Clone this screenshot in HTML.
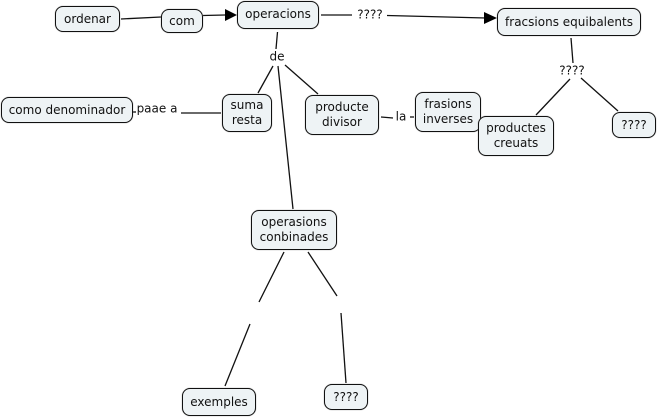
<!DOCTYPE html>
<html>
<head>
<meta charset="utf-8">
<style>
html,body{margin:0;padding:0;background:#fff}
#c{position:relative;width:657px;height:417px;overflow:hidden;background:#fff;font-family:"DejaVu Sans","Liberation Sans",sans-serif;font-size:12px;color:#111}
svg{position:absolute;left:0;top:0}
.n{position:absolute;box-sizing:border-box;background:#eef3f5;border:1px solid #111;border-radius:8px;display:flex;align-items:center;justify-content:center;text-align:center;line-height:15px;white-space:nowrap;box-shadow:0 0 1px #888}
.l{position:absolute;transform:translate(-50%,-50%);white-space:nowrap;line-height:15px}
</style>
</head>
<body>
<div id="c">
<svg width="657" height="417" viewBox="0 0 657 417">
<g stroke="#111" stroke-width="1.3" fill="none">
<line x1="121" y1="19" x2="161" y2="17"/>
<line x1="203" y1="15.5" x2="225" y2="15"/>
<line x1="321" y1="15" x2="352" y2="15"/>
<line x1="387" y1="15.5" x2="486" y2="18"/>
<line x1="277.5" y1="32" x2="276" y2="49"/>
<line x1="273" y1="66" x2="258" y2="93"/>
<line x1="278" y1="66" x2="293" y2="209"/>
<line x1="285" y1="65" x2="318" y2="94"/>
<line x1="133" y1="112" x2="136" y2="112"/>
<line x1="181" y1="113" x2="221" y2="113"/>
<line x1="381" y1="117" x2="393" y2="118"/>
<line x1="410" y1="117" x2="414" y2="117"/>
<line x1="571" y1="38" x2="573" y2="63"/>
<line x1="570" y1="79" x2="536" y2="115"/>
<line x1="581" y1="78" x2="618" y2="111"/>
<line x1="284" y1="252" x2="259" y2="302"/>
<line x1="250" y1="324" x2="225" y2="386"/>
<line x1="308" y1="252" x2="337" y2="296"/>
<line x1="341" y1="313" x2="346" y2="383"/>
</g>
<polygon points="225,9 225,21 237,15" fill="#000"/>
<polygon points="484,12 484,24 497,18" fill="#000"/>
</svg>
<div class="n" style="left:55px;top:6px;width:65px;height:26px">ordenar</div>
<div class="n" style="left:161px;top:9px;width:42px;height:24px">com</div>
<div class="n" style="left:237px;top:1px;width:82px;height:28px;padding-bottom:2px">operacions</div>
<div class="n" style="left:497px;top:8px;width:144px;height:28px">fracsions equibalents</div>
<div class="n" style="left:1px;top:97px;width:132px;height:26px">como denominador</div>
<div class="n" style="left:222px;top:94px;width:50px;height:38px">suma<br>resta</div>
<div class="n" style="left:305px;top:95px;width:74px;height:40px">producte<br>divisor</div>
<div class="n" style="left:415px;top:92px;width:66px;height:40px">frasions<br>inverses</div>
<div class="n" style="left:478px;top:116px;width:76px;height:40px">productes<br>creuats</div>
<div class="n" style="left:612px;top:112px;width:44px;height:26px">????</div>
<div class="n" style="left:251px;top:210px;width:86px;height:40px">operasions<br>conbinades</div>
<div class="n" style="left:182px;top:388px;width:74px;height:28px">exemples</div>
<div class="n" style="left:324px;top:384px;width:44px;height:26px">????</div>
<div class="l" style="left:277px;top:57px">de</div>
<div class="l" style="left:157px;top:109px">paae a</div>
<div class="l" style="left:401px;top:117px">la</div>
<div class="l" style="left:370px;top:15px">????</div>
<div class="l" style="left:572px;top:71px">????</div>
</div>
</body>
</html>
